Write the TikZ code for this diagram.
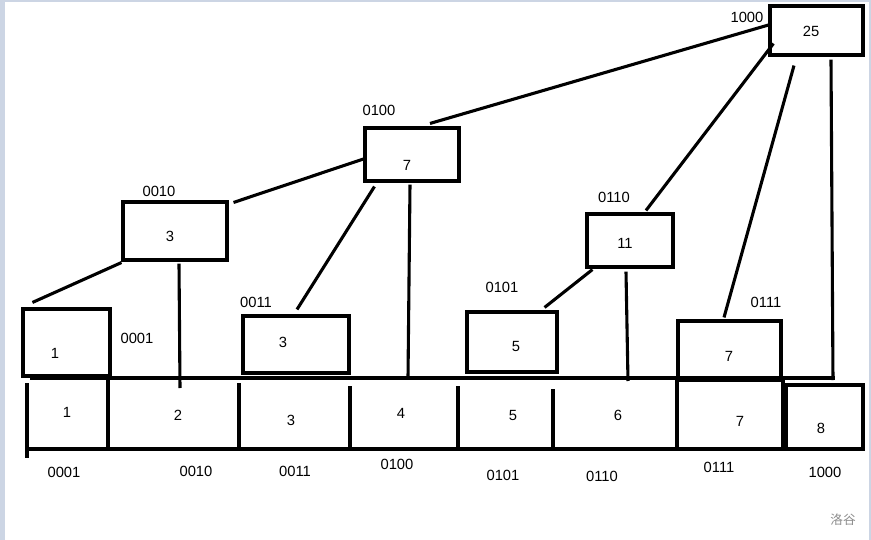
\documentclass[tikz,border=0pt]{standalone}
\usepackage{fontspec}
\setmainfont{Liberation Sans}
\newfontfamily\cjk{Noto Sans CJK SC}
\usetikzlibrary{positioning}
\newcommand{\pxu}{0.025cm}
\definecolor{frame}{RGB}{204,213,228}

\begin{document}
\begin{tikzpicture}[x=0.025cm,y=-0.025cm,
  box/.style 2 args={draw,line width=2.2pt,inner sep=0pt,minimum width=#1*\pxu,minimum height=#2*\pxu},
  num/.style={inner sep=0pt,font=\fontsize{10.5}{12}\selectfont},
  tag/.style={inner sep=0pt,font=\fontsize{10.5}{12}\selectfont},
  link/.style={line width=2.2pt},
  cell/.style={line width=3.2pt}]

\useasboundingbox (0,0) rectangle (871,540);
\fill[frame] (0,0) rectangle (5,540);
\fill[frame] (0,0) rectangle (871,1.5);
\fill[frame] (869,0) rectangle (871,540);

% the array row
\draw [cell] (30,378) -- (835,378);
\draw [cell] (27,449) -- (834,449);
\draw [cell] (27,383) -- (27,458);
\foreach \x/\ya in {108/378,239/383,350/386,458/386,553/389} 
\draw [cell] (\x,\ya) -- (\x,449);
\draw [cell] (677,380) rectangle (783,449);
\draw [line width=2.4pt] (786,385) rectangle (863,449);

\foreach \x/\y/\t [count=\i] in {67/412/1,178/415/2,291/420/3,401/413/4,513/415/5,618/415/6,740/421/7,821/428/8}
    \node[num] (c\i) at (\x,\y) {\t};
\foreach \x/\y/\t [count=\i] in {64/472/0001,196/471/0010,295/471/0011,397/464/0100,503/475/0101,602/476/0110,719/467/0111,825/472/1000}
    \node[tag] (k\i) at (\x,\y) {\t};

% tree boxes
\node[box={87}{67}] (b0001) at (66.5,342.5) {};
\node[box={106}{57}] (b0011) at (296,344.5) {};
\node[box={90}{60}] (b0101) at (512,342) {};
\node[box={103}{57}] (b0111) at (729.5,349.5) {};
\node[box={104}{58}] (b0010) at (175,231) {};
\node[box={94}{53}] (b0100) at (412,154.5) {};
\node[box={86}{53}] (b0110) at (630,240.5) {};
\node[box={93}{49}] (b1000) at (816.5,30.5) {};

\node[num] (v0001) at (55,353) {1};
\node[num] (v0011) at (283,342) {3};
\node[num] (v0101) at (516,346) {5};
\node[num] (v0111) at (729,356) {7};
\node[num] (v0010) at (170,236) {3};
\node[num] (v0100) at (407,165) {7};
\node[num] (v0110) at (625,243) {11};
\node[num] (v1000) at (811,31) {25};

\node[tag] (l0001) at (137,338) {0001};
\node[tag] (l0011) at (256,302) {0011};
\node[tag] (l0101) at (502,287) {0101};
\node[tag] (l0111) at (766,302) {0111};
\node[tag] (l0010) at (159,191) {0010};
\node[tag] (l0100) at (379,110) {0100};
\node[tag] (l0110) at (614,197) {0110};
\node[tag] (l1000) at (747,17) {1000};

\coordinate (t0010) at (180,388);
\coordinate (t0100) at (408,378);
\coordinate (t0110) at (628,381);
\coordinate (t1000) at (833,380);

\draw [link] ([shift={(11,-5)}]b0001.north west) -- ([shift={(0,1)}]b0010.south west);
\draw [link] ([shift={(4,2)}]b0010.south) -- (t0010);
\draw [link] ([shift={(5,2)}]b0010.north east) -- ([shift={(0,4.5)}]b0100.west);
\draw [link] ([shift={(1,-5)}]b0011.north) -- ([shift={(11,4)}]b0100.south west);
\draw [link] ([shift={(-2,2)}]b0100.south) -- (t0100);
\draw [link] ([shift={(18,-3)}]b0100.north) -- ([shift={(0,-5.5)}]b1000.west);
\draw [link] ([shift={(-14,-3)}]b0101.north east) -- ([shift={(7,1)}]b0110.south west);
\draw [link] ([shift={(-4,3)}]b0110.south) -- (t0110);
\draw [link] ([shift={(16,-2)}]b0110.north) -- ([shift={(5,-13)}]b1000.south west);
\draw [link] ([shift={(-5.5,-2)}]b0111.north) -- ([shift={(-22.5,9)}]b1000.south);
\draw [link] ([shift={(14.5,3)}]b1000.south) -- (t1000);

\node[text=black!45,inner sep=0pt,font=\cjk\fontsize{9}{10}\selectfont] (mark) at (843,520) {洛谷};
\end{tikzpicture}
\end{document}
